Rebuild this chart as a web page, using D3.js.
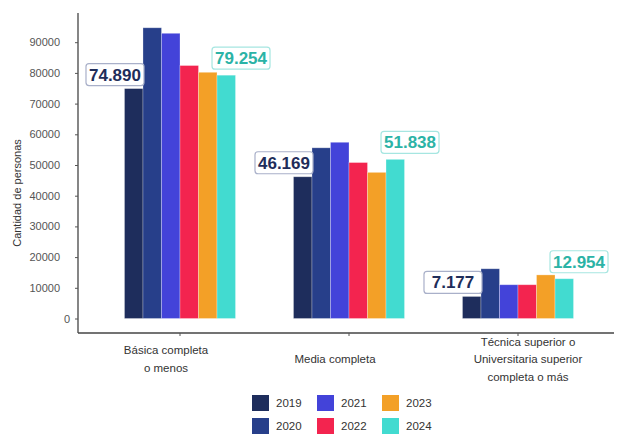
<!DOCTYPE html>
<html>
<head>
<meta charset="utf-8">
<script src="https://cdn.jsdelivr.net/npm/d3@7"></script>
<style>
  html, body { margin: 0; padding: 0; background: #fff; }
  svg { display: block; font-family: "Liberation Sans", Arial, sans-serif; }
</style>
</head>
<body>
<svg id="chart" width="619" height="434"></svg>
<script>
const categories = [
  ["Básica completa", "o menos"],
  ["Media completa"],
  ["Técnica superior o", "Universitaria superior", "completa o más"]
];
const categoryKeys = ["basica", "media", "tecnica"];
const years = ["2019", "2020", "2021", "2022", "2023", "2024"];
const values = {
  "2019": [74890, 46169, 7177],
  "2020": [94700, 55600, 16200],
  "2021": [92900, 57400, 11000],
  "2022": [82400, 50800, 11000],
  "2023": [80200, 47600, 14200],
  "2024": [79254, 51838, 12954]
};
const yTicks = [0, 10000, 20000, 30000, 40000, 50000, 60000, 70000, 80000, 90000];
const labelYears = ["2019", "2024"];
const colors = ["#1e2d5c", "#273f8a", "#4343d9", "#f3244f", "#f3a027", "#42dbd0"];

const svg = d3.select("#chart");
const fmt = v => d3.format(",")(v).replace(/,/g, ".");

const y = d3.scaleLinear().domain([0, 100000]).range([318.5, 11.5]);
const x = d3.scaleBand().domain(categoryKeys).range([95.5, 602.5])
  .paddingInner(0.343).paddingOuter(0.1715);
const xi = d3.scaleBand().domain(years).range([0, x.bandwidth()]);
const color = d3.scaleOrdinal().domain(years).range(colors);

// Y axis
const yAxis = svg.append("g").attr("transform", "translate(78,0)")
  .call(d3.axisLeft(y).tickValues(yTicks).tickFormat(d3.format("d"))
    .tickSize(3).tickPadding(15).tickSizeOuter(0));
yAxis.select(".domain").attr("d", "M0,13V333").attr("stroke", "#444").attr("stroke-width", 1.3);
yAxis.selectAll(".tick line").attr("stroke", "#555");
yAxis.selectAll(".tick text")
  .attr("font-size", "11px").attr("fill", "#555")
  .attr("font-family", "Liberation Sans, Arial, sans-serif")
  .attr("dx", d => d === 0 ? 10 : 0);

svg.append("text")
  .attr("transform", "translate(21,193) rotate(-90)")
  .attr("text-anchor", "middle")
  .attr("font-size", "11px").attr("fill", "#333")
  .text("Cantidad de personas");

// X axis
const xAxis = svg.append("g").attr("transform", "translate(0,333)")
  .call(d3.axisBottom(x).tickSize(3).tickSizeOuter(0).tickFormat(""));
xAxis.select(".domain").attr("d", "M78,0H614").attr("stroke", "#444").attr("stroke-width", 1.3);
xAxis.selectAll(".tick line").attr("stroke", "#555");

const labelDx = [-14, -14, 10];
categoryKeys.forEach((k, i) => {
  const lines = categories[i];
  const lh = 17.5;
  const cy = 359 - (lines.length - 1) * lh / 2;
  const t = svg.append("text")
    .attr("text-anchor", "middle")
    .attr("font-size", "11.5px").attr("fill", "#333");
  lines.forEach((ln, j) => {
    t.append("tspan")
      .attr("x", x(k) + x.bandwidth() / 2 + labelDx[i])
      .attr("y", cy + j * lh + 4)
      .text(ln);
  });
});

// Bars
const data = [];
categoryKeys.forEach((k, i) => years.forEach(yr => data.push({ k, i, yr, v: values[yr][i] })));

svg.append("g").selectAll("rect").data(data).join("rect")
  .attr("x", d => x(d.k) + xi(d.yr))
  .attr("y", d => y(d.v))
  .attr("width", xi.bandwidth())
  .attr("height", d => y(0) - y(d.v))
  .attr("fill", d => color(d.yr))
  .attr("stroke", "#ffffff").attr("stroke-opacity", 0.35).attr("stroke-width", 0.8);

// Data labels
const labelData = data.filter(d => labelYears.includes(d.yr));
const boxW = 58, boxH = 22;
const lg = svg.append("g");
labelData.forEach(d => {
  const first = d.yr === labelYears[0];
  const bx = x(d.k) + xi(d.yr);
  const left = first ? bx + xi.bandwidth() + 1 - boxW : bx - 5;
  const bottom = y(d.v) - (first ? 3 : 6);
  const g = lg.append("g");
  g.append("rect")
    .attr("x", left).attr("y", bottom - boxH)
    .attr("width", boxW).attr("height", boxH)
    .attr("rx", 3)
    .attr("fill", "#fff")
    .attr("stroke", first ? "#a9b0c9" : "#a6e6e1").attr("stroke-width", 1.2);
  g.append("text")
    .attr("x", left + boxW / 2).attr("y", bottom - boxH / 2 + 6)
    .attr("text-anchor", "middle")
    .attr("font-size", "17px").attr("font-weight", "bold")
    .attr("fill", first ? "#1f2d5a" : "#2bb3a6")
    .text(fmt(d.v));
});

// Legend
const legend = svg.append("g");
years.forEach((yr, i) => {
  const col = Math.floor(i / 2), row = i % 2;
  const gx = 252 + col * 65, gy = 395 + row * 23;
  legend.append("rect").attr("x", gx).attr("y", gy).attr("width", 17).attr("height", 16)
    .attr("fill", color(yr));
  legend.append("text").attr("x", gx + 24).attr("y", gy + 12)
    .attr("font-size", "11.5px").attr("fill", "#333").text(yr);
});
</script>
</body>
</html>
